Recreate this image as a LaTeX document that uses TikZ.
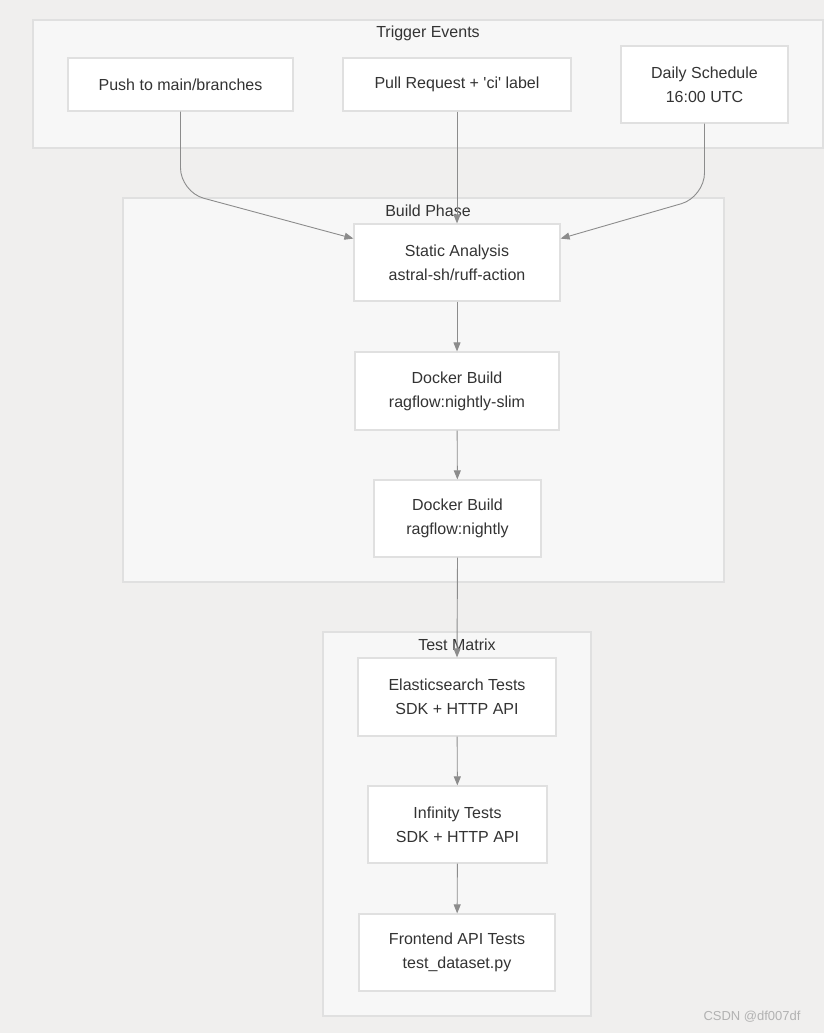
\documentclass[tikz,border=0pt]{standalone}
\usepackage{fontspec}
\setmainfont{Liberation Sans}
\usetikzlibrary{arrows.meta,backgrounds}
\definecolor{pagebg}{RGB}{240,239,238}
\definecolor{clusterbg}{RGB}{247,247,247}
\definecolor{edgegray}{RGB}{224,224,224}
\definecolor{txtgray}{RGB}{51,51,51}
\definecolor{flowgray}{RGB}{140,140,140}
\tikzset{%
  cluster/.style  = {draw=edgegray, fill=clusterbg, line width=1.2pt},%
  clusterlbl/.style = {text=txtgray, font=\fontsize{16}{24}\selectfont, inner sep=0pt},%
  jobnode/.style  = {shape=rectangle, draw=edgegray, fill=white,%
                     line width=1.2pt, align=center, text=txtgray,%
                     font=\fontsize{16}{24}\selectfont, inner sep=0pt},%
  flow/.style     = {draw=flowgray, line width=0.9pt,%
                     -{Triangle[length=9pt,width=7pt]}}%
}
\begin{document}
\begin{tikzpicture}[x=1pt, y=-1pt]
  \fill[pagebg] (0,0) rectangle (824,1033);
  \useasboundingbox (0,0) rectangle (824,1033);
  % clusters
  \draw[cluster] (33,20) rectangle (823,148);
  \draw[cluster] (123,198) rectangle (724,582);
  \draw[cluster] (323,632) rectangle (591,1016);
  \node[clusterlbl] (trig) at (428,33) {Trigger Events};
  \node[clusterlbl] (build) at (428,211) {Build Phase};
  \node[clusterlbl] (tests) at (457,645) {Test Matrix};
  % triggers
  \node[jobnode, minimum width=225, minimum height=53] (push) at (180.5,84.5) {Push to main/branches};
  \node[jobnode, minimum width=228, minimum height=53] (pr) at (457,84.5) {Pull Request + \textquotesingle ci\textquotesingle\ label};
  \node[jobnode, minimum width=167, minimum height=77] (daily) at (704.5,84.5) {Daily Schedule\\16:00 UTC};
  % build phase
  \node[jobnode, minimum width=206, minimum height=77] (ruff) at (457,262.5) {Static Analysis\\astral-sh/ruff-action};
  \node[jobnode, minimum width=204, minimum height=78] (slim) at (457,391) {Docker Build\\ragflow:nightly-slim};
  \node[jobnode, minimum width=167, minimum height=77] (nightly) at (457.5,518.5) {Docker Build\\ragflow:nightly};
  % test matrix
  \node[jobnode, minimum width=198, minimum height=78] (es) at (457,697) {Elasticsearch Tests\\SDK + HTTP API};
  \node[jobnode, minimum width=179, minimum height=77] (inf) at (457.5,824.5) {Infinity Tests\\SDK + HTTP API};
  \node[jobnode, minimum width=196, minimum height=77] (front) at (457,952.5) {Frontend API Tests\\test\_dataset.py};
  % connectors
  \coordinate (pushturn) at (180.5,192);
  \coordinate (dailyturn) at (704.5,197);
  \draw[flow, rounded corners=24] (push.south) -- (pushturn) -- (ruff.167);
  \draw[flow] (pr.south) -- (ruff.north);
  \draw[flow, rounded corners=24] (daily.south) -- (dailyturn) -- (ruff.13);
  \draw[flow] (ruff) -- (slim);
  \draw[flow] (slim) -- (nightly);
  \draw[flow] (nightly.south) -- (es.north);
  \draw[flow] (es) -- (inf);
  \draw[flow] (inf) -- (front);
  % watermark
  \node[text=black!30, font=\fontsize{13}{15}\selectfont, inner sep=0pt] (mark) at (752,1017) {CSDN @df007df};
\end{tikzpicture}
\end{document}
